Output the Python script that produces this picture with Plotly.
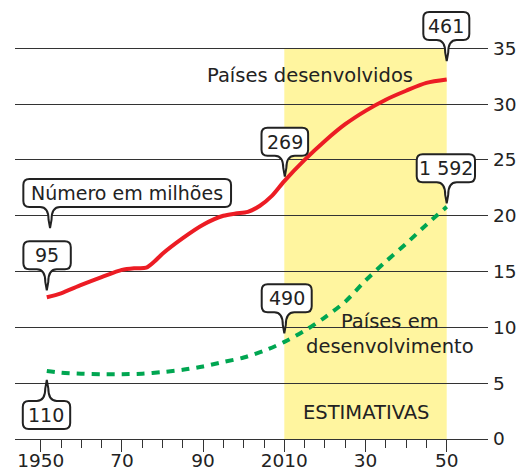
import plotly.graph_objects as go

# Population series (millions, scaled to the chart's 0-35 axis)
years_dev = [1951.5, 1955, 1960, 1965, 1970, 1973, 1976, 1978, 1980, 1985, 1990,
             1995, 1998, 2001, 2004, 2007, 2010, 2015, 2020, 2025, 2030, 2035,
             2040, 2045, 2050]
developed = [12.7, 13.05, 13.8, 14.5, 15.15, 15.3, 15.35, 15.9, 16.6, 18.0, 19.2,
             20.0, 20.2, 20.35, 20.9, 21.8, 23.1, 25.0, 26.7, 28.2, 29.4, 30.4,
             31.2, 31.9, 32.2]

years_devp = [1951.5, 1955, 1960, 1965, 1970, 1975, 1980, 1985, 1990, 1995, 2000,
              2005, 2010, 2015, 2020, 2025, 2030, 2035, 2040, 2045, 2050]
developing = [6.1, 5.95, 5.85, 5.8, 5.8, 5.85, 6.0, 6.2, 6.5, 6.9, 7.3,
              7.9, 8.7, 9.7, 10.9, 12.3, 14.2, 15.9, 17.5, 19.2, 20.8]

x_tickvals = [1950, 1970, 1990, 2010, 2030, 2050]
x_ticktext = ["1950", "70", "90", "2010", "30", "50"]
x_minor = [1955, 1960, 1965, 1975, 1980, 1985, 1995, 2000, 2005,
           2015, 2020, 2025, 2035, 2040, 2045]
y_tickvals = [0, 5, 10, 15, 20, 25, 30, 35]

estimate_start, estimate_end = 2010, 2050

FONT = "DejaVu Sans"
INK = "#222222"
RED = "#ec1c24"
GREEN = "#00a651"
YELLOW = "#fff59f"


def value_at(xs, ys, x):
    for i in range(len(xs) - 1):
        if xs[i] <= x <= xs[i + 1]:
            t = (x - xs[i]) / (xs[i + 1] - xs[i])
            return ys[i] + t * (ys[i + 1] - ys[i])
    return ys[-1]


def balloon_path(tx, ty, left, right, down=True, tail=21, h=28, r=6, w=10):
    """Rounded box with a pointer; coordinates in pixels relative to an anchor (y up)."""
    L, R = tx + left, tx + right
    s = 1 if down else -1
    B = ty + s * tail          # box edge nearest the tip
    T = B + s * h              # far edge
    p = []
    p.append(f"M{L + r},{T}")
    p.append(f"L{R - r},{T}")
    p.append(f"Q{R},{T} {R},{T - s * r}")
    p.append(f"L{R},{B + s * r}")
    p.append(f"Q{R},{B} {R - r},{B}")
    p.append(f"L{tx + w},{B}")
    p.append(f"Q{tx + 1.5},{B} {tx + 1.5},{B - s * tail * 0.6}")
    p.append(f"L{tx},{ty}")
    p.append(f"L{tx - 1.5},{B - s * tail * 0.6}")
    p.append(f"Q{tx - 1.5},{B} {tx - w},{B}")
    p.append(f"L{L + r},{B}")
    p.append(f"Q{L},{B} {L},{B + s * r}")
    p.append(f"L{L},{T - s * r}")
    p.append(f"Q{L},{T} {L + r},{T}")
    p.append("Z")
    return " ".join(p)


fig = go.Figure()

fig.add_trace(go.Scatter(
    x=years_devp, y=developing, mode="lines",
    line=dict(color=GREEN, width=4, dash="8px,7px", shape="spline", smoothing=0.8),
    hoverinfo="skip", showlegend=False,
))
fig.add_trace(go.Scatter(
    x=years_dev, y=developed, mode="lines",
    line=dict(color=RED, width=4, shape="spline", smoothing=0.8),
    hoverinfo="skip", showlegend=False,
))

shapes = [dict(type="rect", xref="x", yref="y", x0=estimate_start, x1=estimate_end,
               y0=0, y1=35, fillcolor=YELLOW, line=dict(width=0), layer="below")]
annotations = []

# (label, anchor x, anchor y, tip dx, tip dy, box left, box right, pointer down?)
balloons = [
    ("95", years_dev[0], developed[0], 0, 7, -23.4, 24, True),
    ("269", 2010, value_at(years_dev, developed, 2010), 0.5, 4.5, -23.3, 23.3, True),
    ("461", years_dev[-1], developed[-1], 0, 18.5, -23.4, 22.6, True),
    ("110", years_devp[0], developing[0], 0, -9, -24, 23.4, False),
    ("490", 2010, value_at(years_devp, developing, 2010), 0, 8.6, -22.6, 27.4, True),
    ("1 592", years_devp[-1], developing[-1], 0, 3.5, -30, 28.3, True),
    ("Número em milhões", 1952.3, 18.9, 0, 0, -26.7, 181, True),
]

for text, ax, ay, tx, ty, left, right, down in balloons:
    shapes.append(dict(
        type="path", xref="x", yref="y", xsizemode="pixel", ysizemode="pixel",
        xanchor=ax, yanchor=ay, path=balloon_path(tx, ty, left, right, down),
        fillcolor="white", line=dict(color=INK, width=2), layer="above",
    ))
    cy = ty + (35 if down else -35)
    annotations.append(dict(
        x=ax, y=ay, xref="x", yref="y", text=text, showarrow=False,
        xshift=tx + (left + right) / 2, yshift=cy,
        font=dict(family=FONT, size=19, color=INK),
        xanchor="center", yanchor="middle",
    ))

annotations += [
    dict(x=2016.4, y=32.6, xref="x", yref="y", text="Países desenvolvidos",
         showarrow=False, font=dict(family=FONT, size=19.5, color=INK),
         xanchor="center", yanchor="middle"),
    dict(x=2036.0, y=9.45, xref="x", yref="y", text="Países em<br>desenvolvimento",
         showarrow=False, align="center", font=dict(family=FONT, size=19.5, color=INK),
         xanchor="center", yanchor="middle"),
    dict(x=2030, y=2.37, xref="x", yref="y", text="ESTIMATIVAS",
         showarrow=False, font=dict(family=FONT, size=19.5, color=INK),
         xanchor="center", yanchor="middle"),
]

fig.update_layout(
    width=532, height=471,
    margin=dict(l=15, r=44, t=0, b=32),
    paper_bgcolor="white", plot_bgcolor="white",
    shapes=shapes, annotations=annotations,
    showlegend=False,
    xaxis=dict(
        range=[1943.67, 2060.17], tickvals=x_tickvals, ticktext=x_ticktext,
        ticks="outside", ticklen=12, tickwidth=1.3, tickcolor="#333333",
        minor=dict(tickvals=x_minor, ticks="outside", ticklen=8, tickwidth=1.3,
                   tickcolor="#333333", showgrid=False),
        showline=True, linecolor="#333333", linewidth=1.3,
        showgrid=False, zeroline=False, automargin=False,
        ticklabelstandoff=-7,
        tickfont=dict(family=FONT, size=18.5, color=INK),
        fixedrange=True,
    ),
    yaxis=dict(
        range=[0, 39.33], tickvals=y_tickvals, side="right",
        showgrid=True, gridcolor="#333333", gridwidth=1.3,
        zeroline=False, showline=False, ticks="", automargin=False,
        ticklabelstandoff=4,
        tickfont=dict(family=FONT, size=18.5, color=INK),
        fixedrange=True,
    ),
)

fig.write_html("out.html")
